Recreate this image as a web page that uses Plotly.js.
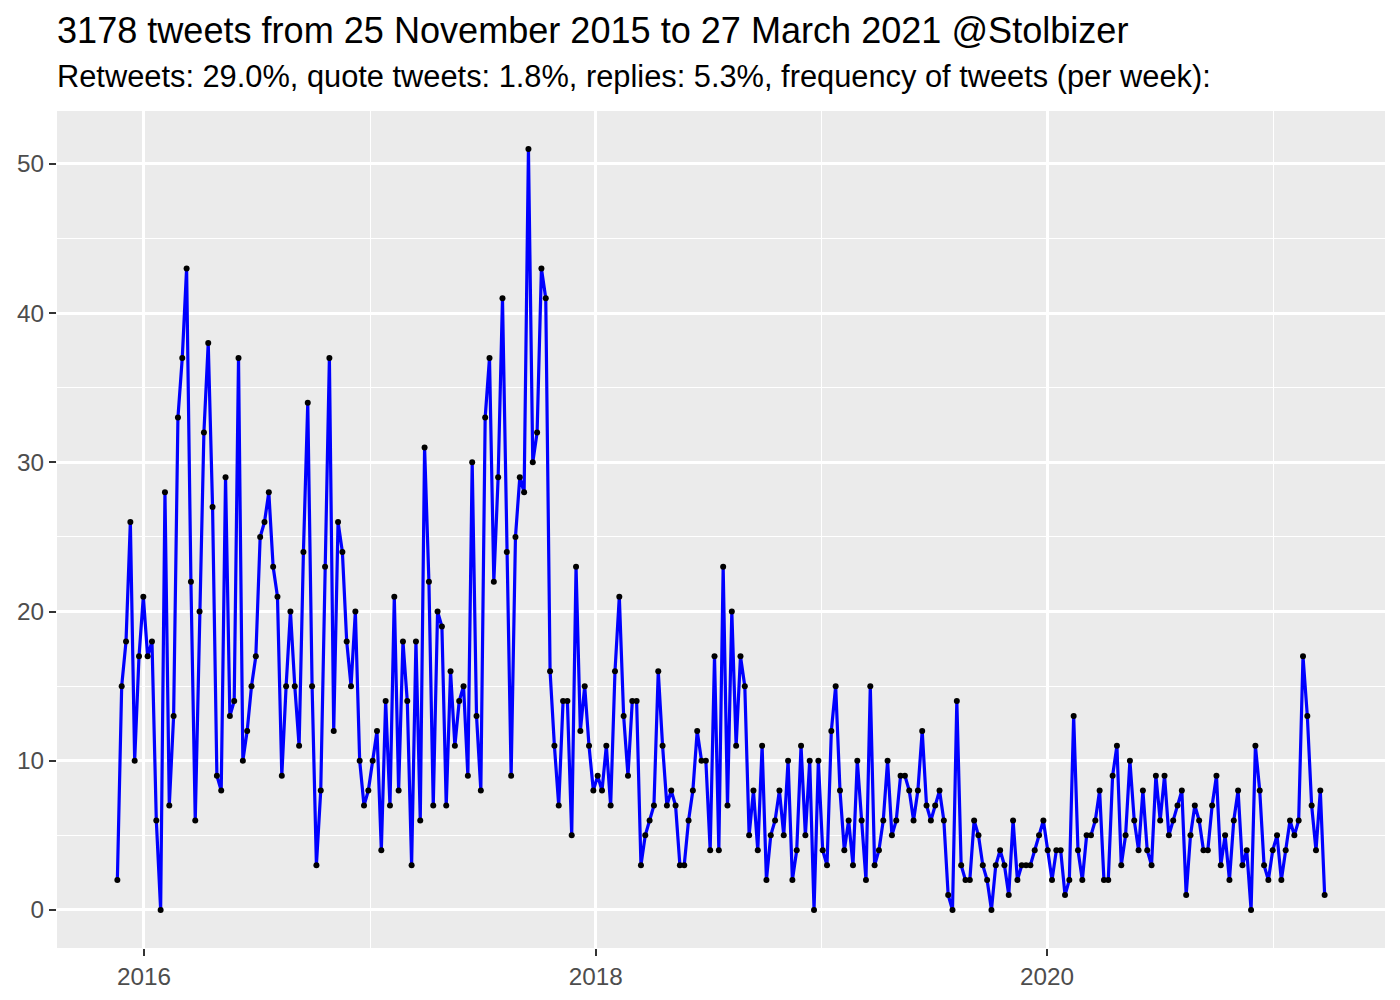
<!DOCTYPE html>
<html>
<head>
<meta charset="utf-8">
<script src="https://cdn.plot.ly/plotly-3.0.1.min.js"></script>
<style>
  html, body { margin: 0; padding: 0; background: #ffffff; }
  #chart { width: 1400px; height: 1000px; }
</style>
</head>
<body>
<div id="chart"></div>
<script>
// ---- data (weekly tweet counts) ----
const firstWeek = "2015-11-19";   // date of the first weekly bin
const tweetsPerWeek = [
  2,15,18,26,10,17,21,17,18,6,0,28,7,13,33,37,43,22,6,20,32,38,27,9,8,29,
  13,14,37,10,12,15,17,25,26,28,23,21,9,15,20,15,11,24,34,15,3,8,23,37,12,26,
  24,18,15,20,10,7,8,10,12,4,14,7,21,8,18,14,3,18,6,31,22,7,20,19,7,16,11,
  14,15,9,30,13,8,33,37,22,29,41,24,9,25,29,28,51,30,32,43,41,16,11,7,14,14,
  5,23,12,15,11,8,9,8,11,7,16,21,13,9,14,14,3,5,6,7,16,11,7,8,7,3,3,
  6,8,12,10,10,4,17,4,23,7,20,11,17,15,5,8,4,11,2,5,6,8,5,10,2,4,
  11,5,10,0,10,4,3,12,15,8,4,6,3,10,6,2,15,3,4,6,10,5,6,9,9,8,6,
  8,12,7,6,7,8,6,1,0,14,3,2,2,6,5,3,2,0,3,4,3,1,6,2,3,3,3,
  4,5,6,4,2,4,4,1,2,13,4,2,5,5,6,8,2,2,9,11,3,5,10,6,4,8,
  4,3,9,6,9,5,6,7,8,1,5,7,6,4,4,7,9,3,5,2,6,8,3,4,0,11,8,
  3,2,4,5,2,4,6,5,6,17,13,7,4,8,1
];
const titleText = "3178 tweets from 25 November 2015 to 27 March 2021 @Stolbizer";
const subtitleText = "Retweets: 29.0%, quote tweets: 1.8%, replies: 5.3%, frequency of tweets (per week):";
const yTicks = [0, 10, 20, 30, 40, 50];

// weekly bin dates
const DAY = 86400000;
const t0 = Date.parse(firstWeek + "T00:00:00Z");
const weekDates = tweetsPerWeek.map((_, i) => new Date(t0 + i * 7 * DAY).toISOString().slice(0, 10));

// ggplot-like 5% expansion
const tFirst = t0, tLast = t0 + (tweetsPerWeek.length - 1) * 7 * DAY;
const xPad = (tLast - tFirst) * 0.05;
const xRange = [new Date(tFirst - xPad).toISOString(), new Date(tLast + xPad).toISOString()];
const yMax = Math.max(...tweetsPerWeek), yMin = Math.min(...tweetsPerWeek);
const yPad = (yMax - yMin) * 0.05;

const FONT = "Liberation Sans, Arial, Helvetica, sans-serif";

const trace = {
  type: "scatter",
  mode: "lines+markers",
  x: weekDates,
  y: tweetsPerWeek,
  line: { color: "#0000FF", width: 3.2 },
  marker: { color: "#000000", size: 6 },
  hoverinfo: "x+y"
};

const panelL = 57, panelR = 1385, panelT = 111, panelB = 948;

const layout = {
  width: 1400,
  height: 1000,
  paper_bgcolor: "#FFFFFF",
  plot_bgcolor: "#EBEBEB",
  margin: { l: panelL, r: 1400 - panelR, t: panelT, b: 1000 - panelB, pad: 0 },
  showlegend: false,
  font: { family: FONT },
  title: {
    text: titleText,
    font: { family: FONT, size: 36.1, color: "#000000" },
    xref: "container", x: panelL / 1400, xanchor: "left",
    yref: "container", y: 1 - 30 / 1000, yanchor: "middle"
  },
  annotations: [{
    text: subtitleText,
    showarrow: false,
    borderpad: 0,
    xref: "paper", x: 0, xanchor: "left", xshift: -1,
    yref: "paper", y: (panelB - 76) / (panelB - panelT), yanchor: "middle",
    font: { family: FONT, size: 30.8, color: "#000000" }
  }],
  xaxis: {
    type: "date",
    range: xRange,
    tick0: "2016-01-01",
    dtick: "M24",
    tickformat: "%Y",
    showgrid: true,
    gridcolor: "#FFFFFF",
    gridwidth: 2.6,
    minor: { dtick: "M12", tick0: "2016-01-01", showgrid: true, gridcolor: "#FFFFFF", gridwidth: 1.2 },
    ticks: "outside",
    ticklen: 7,
    tickwidth: 2.2,
    tickcolor: "#333333",
    tickfont: { family: FONT, size: 24.3, color: "#4D4D4D" },
    zeroline: false,
    showline: false,
    fixedrange: true
  },
  yaxis: {
    range: [yMin - yPad, yMax + yPad],
    tickvals: yTicks,
    showgrid: true,
    gridcolor: "#FFFFFF",
    gridwidth: 2.6,
    minor: { dtick: 5, tick0: 0, showgrid: true, gridcolor: "#FFFFFF", gridwidth: 1.2 },
    ticks: "outside",
    ticklen: 7,
    tickwidth: 2.2,
    tickcolor: "#333333",
    tickfont: { family: FONT, size: 24.3, color: "#4D4D4D" },
    zeroline: false,
    showline: false,
    fixedrange: true
  }
};

Plotly.newPlot("chart", [trace], layout, { displayModeBar: false, responsive: false });
</script>
</body>
</html>
